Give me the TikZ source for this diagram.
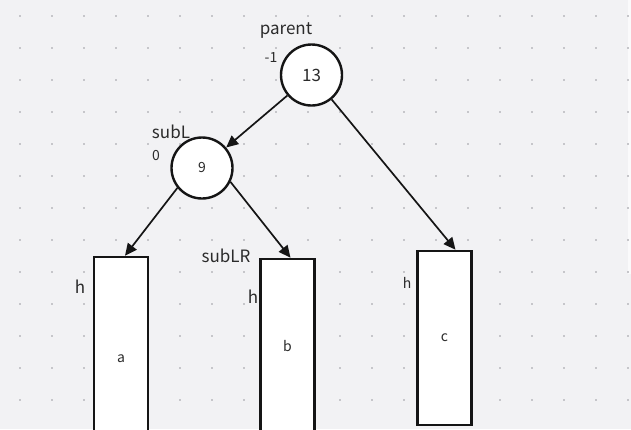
\documentclass[tikz,border=0pt]{standalone}
\usepackage{fontspec}
\setmainfont{Noto Sans CJK SC}
\usetikzlibrary{arrows.meta,calc}
\definecolor{bg}{HTML}{F2F2F4}
\definecolor{dotc}{HTML}{C6C6CA}
\definecolor{ink}{HTML}{151515}
\definecolor{txt}{HTML}{2B2B2B}
\begin{document}
\begin{tikzpicture}[x=1pt,y=-1pt,
 circ/.style={circle,draw=ink,line width=2.4pt,fill=white,minimum size=61pt,inner sep=0pt,text=txt},
 bar/.style={rectangle,draw=ink,line width=2.6pt,fill=white,minimum width=54pt,inner sep=0pt,text=txt,font=\fontsize{14}{14}\selectfont},
 lbl/.style={text=txt,inner sep=0pt,font=\fontsize{17}{17}\selectfont},
 small/.style={text=txt,inner sep=0pt,font=\fontsize{14}{14}\selectfont},
 link/.style={draw=ink,line width=1.7pt,-{Triangle[length=12pt,width=11pt]}}]
\useasboundingbox (0,0) rectangle (631,429);
\clip (0,0) rectangle (631,429);
\fill[bg] (0,0) rectangle (631,429);
\fill[white!60!bg] (628,0) rectangle (631,274);
\foreach \i in {0,...,19}{
  \foreach \j in {0,...,13}{
    \fill[dotc] ({20+32*\i-1},{16+32*\j-1}) rectangle ++(2,2);
  }
}
% nodes
\node[circ,font=\fontsize{17}{17}\selectfont] (parent) at (311.5,75) {13};
\node[circ,font=\fontsize{14}{14}\selectfont] (subL) at (202,168) {9};
\node[bar,minimum height=204pt] (a) at (121,359) {a};
\node[bar,minimum height=174pt] (b) at (287.5,346) {b};
\node[bar,minimum height=174pt] (c) at (444.5,338) {c};
% labels
\node[lbl] (lparent) at (286,31) {parent};
\node[small] (lm1) at (271,58) {-1};
\node[lbl] (lsubL) at (171,132) {subL};
\node[small] (l0) at (156,156) {0};
\node[lbl] (lsubLR) at (226,256) {subLR};
\node[lbl] (ha) at (80,287) {h};
\node[lbl] (hb) at (253,297) {h};
\node[small] (hc) at (407,283) {h};
% connectors
\draw[link] (parent) -- (subL);
\draw[link] (parent) -- ($(c.north)+(11,0)$);
\draw[link] (subL.219) -- ($(a.north)+(4,0)$);
\draw[link] (subL.334) -- ($(b.north)+(3,0)$);
\end{tikzpicture}
\end{document}
